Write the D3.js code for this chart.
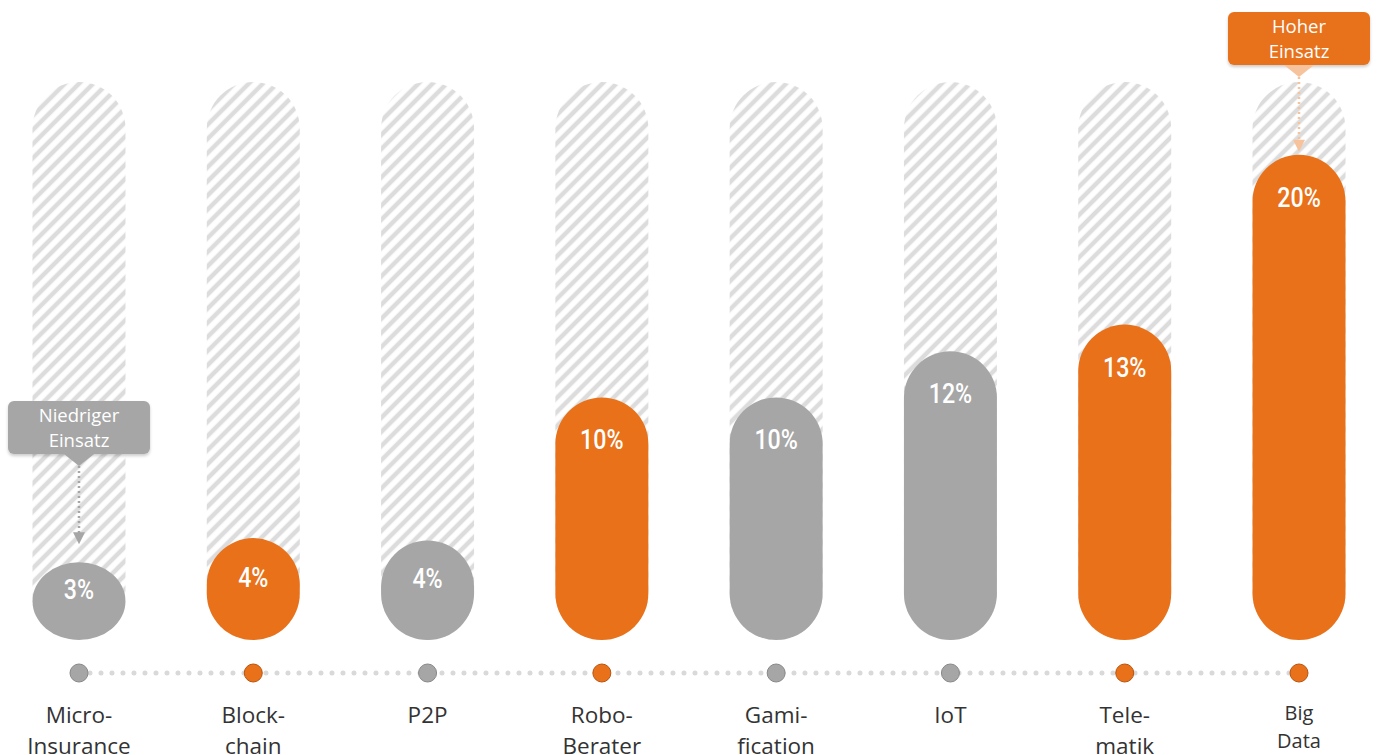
<!DOCTYPE html>
<html>
<head>
<meta charset="utf-8">
<script src="https://cdn.jsdelivr.net/npm/d3@7"></script>
<style>
  body { margin: 0; background: #fff; }
  svg { display: block; }
</style>
</head>
<body>
<script>
// data
var categories = [["Micro-", "Insurance"], ["Block-", "chain"], ["P2P"], ["Robo-", "Berater"],
  ["Gami-", "fication"], ["IoT"], ["Tele-", "matik"], ["Big", "Data"]];
var values = [3.2, 4.2, 4.1, 10, 10, 11.9, 13, 20];
var highlight = [false, true, false, true, false, false, true, true];
var maxValue = 23;

var W = 1381, H = 755;
var orange = "#e8711a", grey = "#a6a6a6";

var svg = d3.select("body").append("svg").attr("width", W).attr("height", H);
var defs = svg.append("defs");

var hatch = defs.append("pattern")
  .attr("id", "hatch")
  .attr("patternUnits", "userSpaceOnUse")
  .attr("width", 10).attr("height", 10)
  .attr("patternTransform", "rotate(-45)");
hatch.append("rect").attr("width", 10).attr("height", 10).attr("fill", "#fff");
hatch.append("line")
  .attr("x1", 0).attr("y1", 5).attr("x2", 10).attr("y2", 5)
  .attr("stroke", "#dcdcdc").attr("stroke-width", 4.5);

var shadow = defs.append("filter").attr("id", "shadow").attr("x", "-10%").attr("y", "-10%").attr("width", "120%").attr("height", "140%");
shadow.append("feDropShadow").attr("dx", 0).attr("dy", 2).attr("stdDeviation", 1.5)
  .attr("flood-color", "#000").attr("flood-opacity", 0.2);

var x = d3.scaleBand().domain(d3.range(categories.length))
  .range([32.5, 1345.5]).paddingInner(0.4665).paddingOuter(0);
var y = d3.scaleLinear().domain([0, maxValue]).range([640, 82]);
var bw = x.bandwidth();
var cx = function(i) { return x(i) + bw / 2; };

// hatched background pills
svg.selectAll(".bg").data(values).enter().append("rect")
  .attr("class", "bg")
  .attr("x", function(d, i) { return x(i); })
  .attr("y", y(maxValue))
  .attr("width", bw)
  .attr("height", y(0) - y(maxValue))
  .attr("rx", bw / 2).attr("ry", bw / 2)
  .attr("fill", "url(#hatch)");

// bars
svg.selectAll(".bar").data(values).enter().append("rect")
  .attr("class", "bar")
  .attr("x", function(d, i) { return x(i); })
  .attr("y", function(d) { return y(d); })
  .attr("width", bw)
  .attr("height", function(d) { return y(0) - y(d); })
  .attr("rx", bw / 2).attr("ry", bw / 2)
  .attr("fill", function(d, i) { return highlight[i] ? orange : grey; });

svg.selectAll(".val").data(values).enter().append("text")
  .attr("class", "val")
  .attr("transform", function(d, i) {
    var ty = Math.min(y(d) + 52, (y(d) + y(0)) / 2 - 2);
    return "translate(" + cx(i) + "," + ty + ") scale(0.86,1)";
  })
  .attr("text-anchor", "middle")
  .attr("font-family", "Roboto, sans-serif")
  .attr("font-weight", 500)
  .attr("font-size", 27)
  .attr("fill", "#fff")
  .text(function(d) { return Math.round(d) + "%"; });

// dotted baseline with markers
var lineY = 673;
svg.append("line")
  .attr("x1", cx(0)).attr("x2", cx(categories.length - 1))
  .attr("y1", lineY).attr("y2", lineY)
  .attr("stroke", "#d9d9d9").attr("stroke-width", 5)
  .attr("stroke-linecap", "round")
  .attr("stroke-dasharray", "0 11");

svg.selectAll(".dot").data(values).enter().append("circle")
  .attr("cx", function(d, i) { return cx(i); })
  .attr("cy", lineY)
  .attr("r", 9)
  .attr("fill", function(d, i) { return highlight[i] ? orange : grey; })
  .attr("stroke", function(d, i) { return highlight[i] ? "#b65510" : "#888"; })
  .attr("stroke-width", 1);

// category labels
var lab = svg.selectAll(".lab").data(categories).enter().append("text")
  .attr("class", "lab")
  .attr("text-anchor", "middle")
  .attr("font-family", "'Open Sans', sans-serif")
  .attr("fill", "#333");
lab.each(function(d, i) {
  var t = d3.select(this);
  var small = i === categories.length - 1;
  d.forEach(function(s, k) {
    t.append("tspan")
      .attr("x", cx(i))
      .attr("y", (small ? 720 : 723) + k * (small ? 28 : 31))
      .attr("font-size", small ? 20 : 22.5)
      .text(s);
  });
});

// callouts
function callout(i, boxY, fill, pointer, lines, arrowTo) {
  var c = cx(i), bx = c - 71, bwid = 142, bh = 53;
  var g = svg.append("g");
  g.append("rect").attr("x", bx).attr("y", boxY).attr("width", bwid).attr("height", bh)
    .attr("rx", 6).attr("fill", fill).attr("filter", "url(#shadow)");
  g.append("path")
    .attr("d", "M" + (c - 15) + "," + (boxY + bh) + "L" + (c + 15) + "," + (boxY + bh) + "L" + c + "," + (boxY + bh + 12) + "Z")
    .attr("fill", pointer);
  g.append("line")
    .attr("x1", c).attr("x2", c)
    .attr("y1", boxY + bh + 12).attr("y2", arrowTo - 10)
    .attr("stroke", pointer).attr("stroke-width", 2.5)
    .attr("stroke-dasharray", "2 3");
  g.append("path")
    .attr("d", "M" + (c - 6) + "," + (arrowTo - 12) + "L" + (c + 6) + "," + (arrowTo - 12) + "L" + c + "," + arrowTo + "Z")
    .attr("fill", pointer);
  var t = g.append("text").attr("text-anchor", "middle")
    .attr("font-family", "'Open Sans', sans-serif").attr("font-size", 18.5).attr("fill", "#fff");
  lines.forEach(function(s, k) {
    t.append("tspan").attr("x", c).attr("y", boxY + 21 + k * 24.5).text(s);
  });
}

callout(0, 401, grey, grey, ["Niedriger", "Einsatz"], y(values[0]) - 18);
callout(7, 12, orange, "#f6c39d", ["Hoher", "Einsatz"], y(values[7]) - 3);
</script>
</body>
</html>
